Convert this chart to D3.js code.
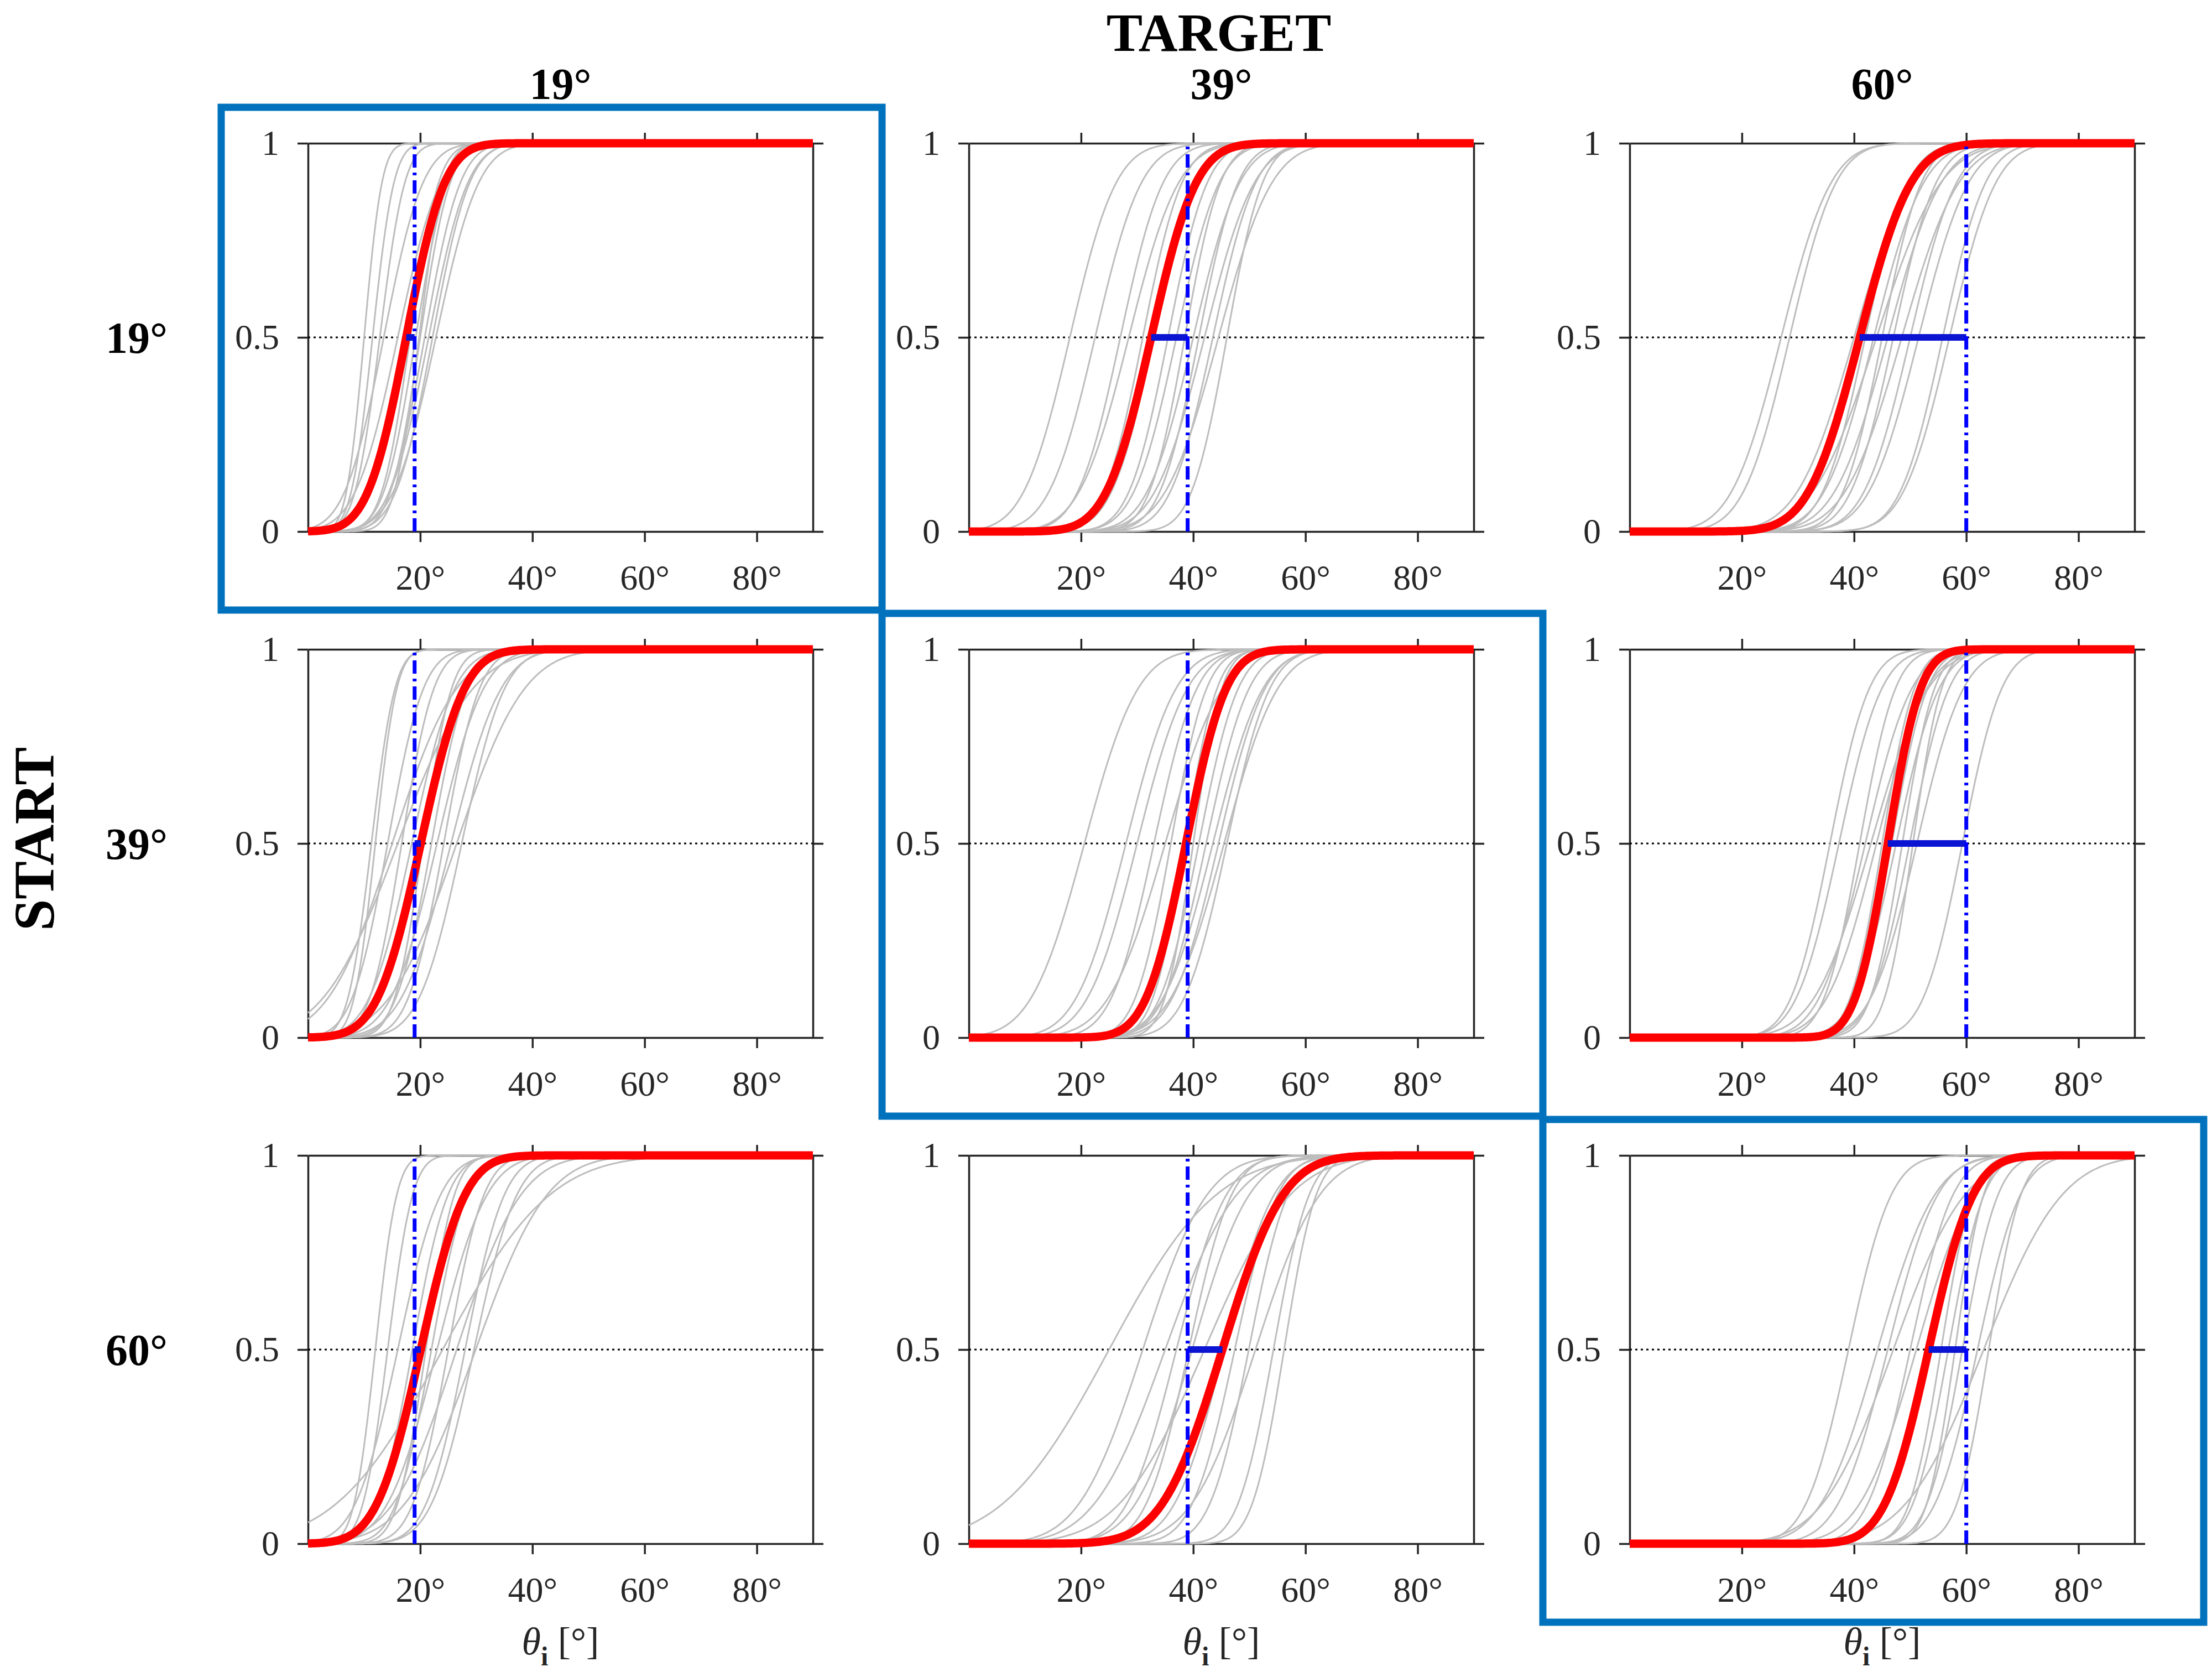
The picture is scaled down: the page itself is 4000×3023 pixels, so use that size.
<!DOCTYPE html>
<html lang="en">
<head>
    <meta charset="UTF-8">
    <title>Psychometric curves: START x TARGET</title>
    <script src="https://d3js.org/d3.v7.min.js"></script>
    <style>
        body {
            margin: 0;
            background-color: #ffffff;
        }
        svg, svg text {
            display: block;
            font-family: "Liberation Serif", "Times New Roman", serif;
        }
        .tick text {
            font-family: "Liberation Serif", "Times New Roman", serif;
            font-size: 64px;
            fill: #262626;
        }
        .domain, .tick line {
            stroke: #262626;
            stroke-width: 3.5px;
        }
        .head {
            font-weight: bold;
            fill: #000;
        }
    </style>
</head>
<body>
    <svg id="chart" width="4000" height="3023"></svg>
    <script>
        // Start angles (rows) and target angles (columns), in degrees
        const startAngles = [19, 39, 60];
        const targetAngles = [19, 39, 60];
        const xTicks = [20, 40, 60, 80];
        const yTicks = [0, 0.5, 1];

        // Mean fit per panel [PSE, sigma], rows = start, cols = target
        const meanFit = [
            [[17.5, 5.4], [32.5, 6.3], [41.0, 7.2]],
            [[20.1, 6.1], [38.7, 5.6], [46.0, 4.6]],
            [[20.1, 6.2], [45.2, 8.5], [53.3, 6.2]]
        ];

        // Individual subject fits [PSE, sigma]
        const subj19to19 = [[10, 2.5], [11.5, 3], [12.8, 3.5], [13.5, 5.5], [16, 6], [18.2, 4], [19.2, 4.5],
                            [19.8, 3.5], [20, 4.2], [20.8, 5], [21.5, 5.5], [22.2, 5.2], [22.8, 6]];
        const subj19to39 = [[18, 6.5], [22.5, 6.5], [27, 6], [28.5, 7], [31, 5.5], [33, 6], [35.5, 5.5], [37, 6],
                            [38.5, 5], [40, 6.5], [41, 5.5], [42, 7], [43.5, 6], [44.5, 7.5], [46, 5]];
        const subj19to60 = [[27, 7], [28.5, 6.5], [40, 8], [42, 6], [43.5, 7], [44, 9], [45, 5.5], [46, 7.5],
                            [47, 6], [48.5, 8], [50, 6.5], [51.5, 7], [55.8, 6], [57, 6.5]];
        const subj39to19 = [[11.3, 3.3], [12, 3], [14.2, 5], [15, 9], [16, 10.5], [16.7, 4.5], [18.5, 6],
                            [20.5, 4], [22, 5], [23, 6.5], [24.2, 5], [25.5, 7], [26.5, 9.5], [27.4, 6]];
        const subj39to39 = [[20.6, 7.5], [28, 7], [30, 7], [33, 6], [35, 8], [36, 5], [38.5, 4.5], [40, 4],
                            [41, 5.5], [42.3, 6], [43.5, 7], [44.5, 6.5], [45.5, 7.5], [46, 6]];
        const subj39to60 = [[35.7, 5.5], [37.3, 6], [41, 5], [42, 6.5], [43, 8], [44, 7], [45, 4.5], [46.7, 5],
                            [47.5, 6], [48.6, 4.5], [49.9, 5.5], [50.5, 4], [51.2, 6.5], [59.3, 5.5]];
        const subj60to19 = [[12, 3], [14.2, 3.5], [16, 6], [18.6, 5], [21, 4], [22, 5], [23, 7], [24, 15],
                            [25, 5], [26.5, 9], [28, 5.5], [29.6, 6], [29.9, 10]];
        const subj60to39 = [[25, 15], [31, 9], [35, 10], [37, 7], [39.2, 6], [39.8, 8], [42, 12], [45.5, 7],
                            [47.4, 6], [49.9, 5.5], [51.1, 9], [54.3, 5], [56.2, 4.5]];
        const subj60to60 = [[39, 6], [44.2, 8], [46, 7], [47, 10], [50, 6], [51.1, 8], [55.5, 4.5], [56.8, 5],
                            [58, 4], [59.3, 5], [62, 6], [63.1, 11], [64, 4.5]];

        const subjectFits = [
            [subj19to19, subj19to39, subj19to60],
            [subj39to19, subj39to39, subj39to60],
            [subj60to19, subj60to39, subj60to60]
        ];

        // Layout (pixels)
        const colLeft = [557, 1752, 2947];
        const rowTop = [259, 1174, 2089];
        const plotW = 913;
        const plotH = 702;

        const svg = d3.select("#chart");
        svg.append("rect").attr("width", 4000).attr("height", 3023).attr("fill", "#fff");

        // cumulative gaussian (Abramowitz & Stegun erf)
        function erf(z) {
            const s = z < 0 ? -1 : 1;
            z = Math.abs(z);
            const t = 1 / (1 + 0.3275911 * z);
            const y = 1 - (((((1.061405429 * t - 1.453152027) * t) + 1.421413741) * t - 0.284496736) * t + 0.254829592) * t * Math.exp(-z * z);
            return s * y;
        }
        const cdf = (x, mu, sd) => 0.5 * (1 + erf((x - mu) / (sd * Math.SQRT2)));
        const xs = d3.range(0, 90.001, 0.25);

        startAngles.forEach((start, r) => {
            targetAngles.forEach((target, c) => {
                const left = colLeft[c], top = rowTop[r];
                const x = d3.scaleLinear().domain([0, 90]).range([left, left + plotW]);
                const y = d3.scaleLinear().domain([0, 1]).range([top + plotH, top]);
                const g = svg.append("g");

                // box axes, ticks outward on all sides
                g.append("g").attr("transform", `translate(0,${top + plotH})`)
                    .call(d3.axisBottom(x).tickValues(xTicks).tickSize(19).tickSizeOuter(0)
                        .tickPadding(41).tickFormat(d => d + "°"));
                g.append("g").attr("transform", `translate(0,${top})`)
                    .call(d3.axisTop(x).tickValues(xTicks).tickSize(19).tickSizeOuter(0).tickFormat(""));
                g.append("g").attr("transform", `translate(${left},0)`)
                    .call(d3.axisLeft(y).tickValues(yTicks).tickSize(19).tickSizeOuter(0)
                        .tickPadding(33).tickFormat(d => String(d)));
                g.append("g").attr("transform", `translate(${left + plotW},0)`)
                    .call(d3.axisRight(y).tickValues(yTicks).tickSize(19).tickSizeOuter(0).tickFormat(""));
                g.selectAll("g").attr("font-family", null);

                // 0.5 reference line
                g.append("line")
                    .attr("x1", x(0)).attr("x2", x(90))
                    .attr("y1", y(0.5)).attr("y2", y(0.5))
                    .attr("stroke", "#000").attr("stroke-width", 3)
                    .attr("stroke-dasharray", "4,6");

                const line = (mu, sd) => d3.line()
                    .x(d => x(d))
                    .y(d => y(cdf(d, mu, sd)))(xs);

                // individual subjects
                g.selectAll(".subj")
                    .data(subjectFits[r][c])
                    .enter()
                    .append("path")
                    .attr("class", "subj")
                    .attr("d", d => line(d[0], d[1]))
                    .attr("fill", "none")
                    .attr("stroke", "#bdbdbd")
                    .attr("stroke-width", 3);

                // mean curve
                const [pse, sd] = meanFit[r][c];
                g.append("path")
                    .attr("d", line(pse, sd))
                    .attr("fill", "none")
                    .attr("stroke", "#ff0000")
                    .attr("stroke-width", 15);

                // error bar from PSE to target
                g.append("line")
                    .attr("x1", x(pse)).attr("x2", x(target))
                    .attr("y1", y(0.5)).attr("y2", y(0.5))
                    .attr("stroke", "#0a14d2").attr("stroke-width", 12);

                // target angle
                g.append("line")
                    .attr("x1", x(target)).attr("x2", x(target))
                    .attr("y1", y(0)).attr("y2", y(1))
                    .attr("stroke", "#0000ff").attr("stroke-width", 7)
                    .attr("stroke-dasharray", "24,9,5,9");

                // highlight box on the diagonal
                if (r === c) {
                    svg.append("rect")
                        .attr("x", left - 157).attr("y", top - 65)
                        .attr("width", plotW + 157 + 125).attr("height", plotH + 65 + 142)
                        .attr("fill", "none")
                        .attr("stroke", "#0072bd").attr("stroke-width", 13);
                }
            });
        });

        // column headers (target) and row headers (start)
        svg.selectAll(".colhead")
            .data(targetAngles)
            .enter()
            .append("text")
            .attr("class", "head")
            .attr("x", (d, i) => colLeft[i] + plotW / 2)
            .attr("y", 179)
            .attr("text-anchor", "middle")
            .attr("font-size", 80)
            .text(d => d + "°");

        svg.selectAll(".rowhead")
            .data(startAngles)
            .enter()
            .append("text")
            .attr("class", "head")
            .attr("x", 247)
            .attr("y", (d, i) => rowTop[i] + plotH / 2 + 28)
            .attr("text-anchor", "middle")
            .attr("font-size", 80)
            .text(d => d + "°");

        svg.append("text")
            .attr("class", "head")
            .attr("x", 2204).attr("y", 92)
            .attr("text-anchor", "middle")
            .attr("font-size", 98)
            .text("TARGET");

        svg.append("text")
            .attr("class", "head")
            .attr("transform", "translate(97,1517) rotate(-90)")
            .attr("text-anchor", "middle")
            .attr("font-size", 103)
            .text("START");

        // x axis labels under the bottom row
        colLeft.forEach(left => {
            const t = svg.append("text")
                .attr("x", left + plotW / 2)
                .attr("y", rowTop[2] + plotH + 200)
                .attr("text-anchor", "middle")
                .attr("font-size", 70)
                .attr("fill", "#262626");
            t.append("tspan").attr("font-style", "italic").text("θ");
            t.append("tspan").attr("font-weight", "bold").attr("font-size", 48).attr("dy", 20).text("i");
            t.append("tspan").attr("dy", -20).text(" [°]");
        });
    </script>
</body>
</html>
